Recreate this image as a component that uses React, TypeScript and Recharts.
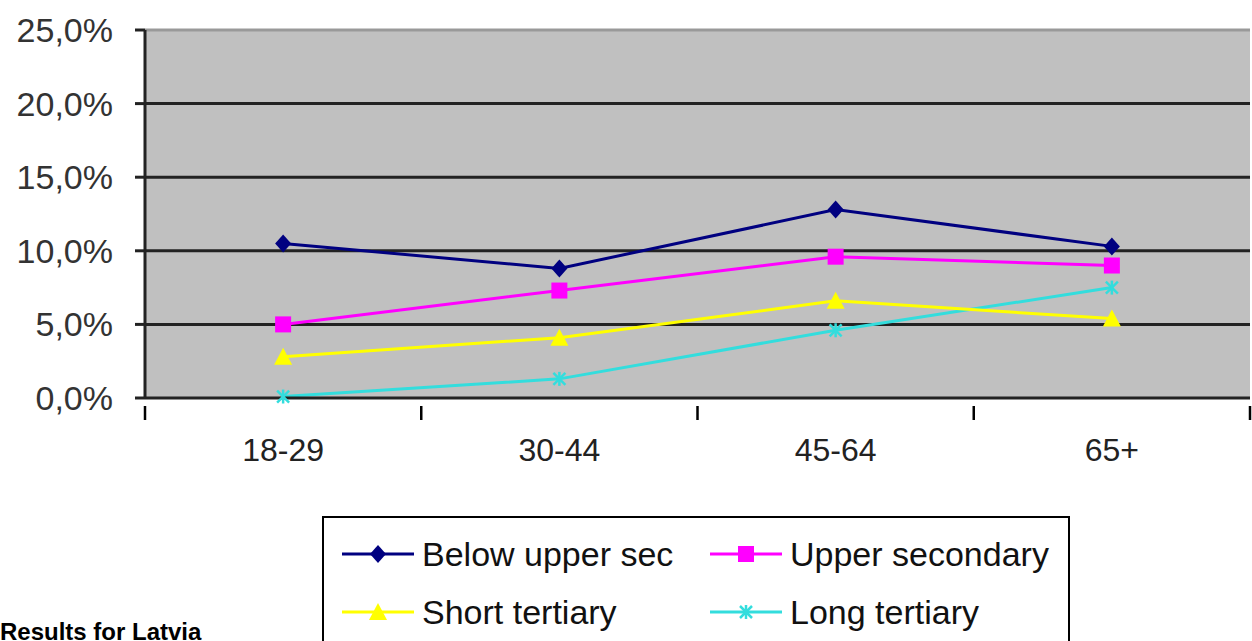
import React from 'react';
import { LineChart, Line, XAxis, YAxis, CartesianGrid, ReferenceLine } from 'recharts';

const categories = ['18-29', '30-44', '45-64', '65+'];
const belowUpperSec = [10.5, 8.8, 12.8, 10.3];
const upperSecondary = [5.0, 7.3, 9.6, 9.0];
const shortTertiary = [2.8, 4.1, 6.6, 5.4];
const longTertiary = [0.1, 1.3, 4.6, 7.5];
const yTicks = [0, 5, 10, 15, 20, 25];

const data = categories.map((c, i) => ({
  cat: c,
  below: belowUpperSec[i],
  upper: upperSecondary[i],
  short: shortTertiary[i],
  long: longTertiary[i],
}));

const W = 1252;
const H = 641;
const Y_AXIS_W = 145;
const X_AXIS_H = 30;
const M = { top: 30, right: 2, bottom: H - 398 - X_AXIS_H, left: 0 };
const plotW = W - Y_AXIS_W - M.right;
const band = plotW / categories.length;
const FONT = 'Arial, "Liberation Sans", sans-serif';

const COLORS = {
  below: '#000080',
  upper: '#ff00ff',
  short: '#ffff00',
  long: '#33dddd',
};

const Diamond = ({ cx, cy, fill }: any) => (
  <polygon points={`${cx},${cy - 9} ${cx + 8},${cy} ${cx},${cy + 9} ${cx - 8},${cy}`} fill={fill} />
);
const Square = ({ cx, cy, fill }: any) => (
  <rect x={cx - 8} y={cy - 8} width={16} height={16} fill={fill} />
);
const Triangle = ({ cx, cy, fill }: any) => (
  <polygon points={`${cx},${cy - 9} ${cx + 9},${cy + 8} ${cx - 9},${cy + 8}`} fill={fill} />
);
const Star = ({ cx, cy, fill }: any) => (
  <g stroke={fill} strokeWidth={2.5}>
    <line x1={cx - 6} y1={cy - 6} x2={cx + 6} y2={cy + 6} />
    <line x1={cx - 6} y1={cy + 6} x2={cx + 6} y2={cy - 6} />
    <line x1={cx} y1={cy - 7} x2={cx} y2={cy + 7} />
  </g>
);

const dotOf = (Shape: any, color: string) => (props: any) => {
  if (props.cx == null || props.cy == null) return <g key={props.key} />;
  return <Shape key={props.key} cx={props.cx} cy={props.cy} fill={color} />;
};

const XTick = (props: any) => {
  const { x, y, payload, index } = props;
  const left = x - band / 2;
  const right = x + band / 2;
  return (
    <g>
      <line x1={left} y1={y} x2={left} y2={y + 14} stroke="#000" strokeWidth={2.5} />
      {index === categories.length - 1 && (
        <line x1={right} y1={y} x2={right} y2={y + 14} stroke="#000" strokeWidth={2.5} />
      )}
      <text x={x} y={y + 55} textAnchor="middle" fontSize={32} fill="#222" fontFamily={FONT}>
        {payload.value}
      </text>
    </g>
  );
};

const fmt = (v: number) => `${v.toFixed(1).replace('.', ',')}%`;

const legendItems = [
  { label: 'Below upper sec', color: COLORS.below, Shape: Diamond },
  { label: 'Upper secondary', color: COLORS.upper, Shape: Square },
  { label: 'Short tertiary', color: COLORS.short, Shape: Triangle },
  { label: 'Long tertiary', color: COLORS.long, Shape: Star },
];

const LegendBox = () => (
  <div
    style={{
      position: 'absolute',
      left: 322,
      top: 516,
      width: 744,
      height: 140,
      border: '2px solid #000',
      background: '#fff',
      fontFamily: FONT,
    }}
  >
    {legendItems.map((it, i) => {
      const col = i % 2;
      const row = Math.floor(i / 2);
      return (
        <div
          key={it.label}
          style={{
            position: 'absolute',
            left: col === 0 ? 16 : 384,
            top: row === 0 ? 16 : 74,
            display: 'flex',
            alignItems: 'center',
            height: 40,
          }}
        >
          <svg width={76} height={24}>
            <line x1={2} y1={12} x2={74} y2={12} stroke={it.color} strokeWidth={3} />
            <it.Shape cx={38} cy={12} fill={it.color} />
          </svg>
          <span style={{ fontSize: 34, color: '#111', marginLeft: 6, whiteSpace: 'nowrap' }}>
            {it.label}
          </span>
        </div>
      );
    })}
  </div>
);

export default function App() {
  return (
    <div style={{ position: 'absolute', left: 0, top: 0, width: W, height: H, overflow: 'hidden', background: '#fff' }}>
      <LineChart width={W} height={H} data={data} margin={M}>
        <CartesianGrid
          horizontal
          vertical={false}
          fill="#c0c0c0"
          stroke="#222"
          strokeWidth={3}
          horizontalValues={[5, 10, 15, 20]}
        />
        <ReferenceLine y={25} stroke="#999" strokeWidth={3} />
        <XAxis
          dataKey="cat"
          height={X_AXIS_H}
          padding={{ left: band / 2, right: band / 2 }}
          axisLine={{ stroke: '#222', strokeWidth: 3 }}
          tickLine={false}
          tick={<XTick />}
          interval={0}
        />
        <YAxis
          domain={[0, 25]}
          ticks={yTicks}
          tickFormatter={fmt}
          axisLine={{ stroke: '#222', strokeWidth: 3 }}
          tickLine={{ stroke: '#222', strokeWidth: 3 }}
          tickSize={10}
          tickMargin={22}
          width={Y_AXIS_W}
          tick={{ fontSize: 34, fill: '#333', fontFamily: FONT }}
        />
        <Line dataKey="long" stroke={COLORS.long} strokeWidth={3} dot={dotOf(Star, COLORS.long)} isAnimationActive={false} />
        <Line dataKey="short" stroke={COLORS.short} strokeWidth={3} dot={dotOf(Triangle, COLORS.short)} isAnimationActive={false} />
        <Line dataKey="upper" stroke={COLORS.upper} strokeWidth={3} dot={dotOf(Square, COLORS.upper)} isAnimationActive={false} />
        <Line dataKey="below" stroke={COLORS.below} strokeWidth={3} dot={dotOf(Diamond, COLORS.below)} isAnimationActive={false} />
      </LineChart>
      <LegendBox />
      <div
        style={{
          position: 'absolute',
          left: 0,
          top: 618,
          fontFamily: FONT,
          fontWeight: 'bold',
          fontSize: 24,
          color: '#000',
          whiteSpace: 'nowrap',
        }}
      >
        Results for Latvia
      </div>
    </div>
  );
}
